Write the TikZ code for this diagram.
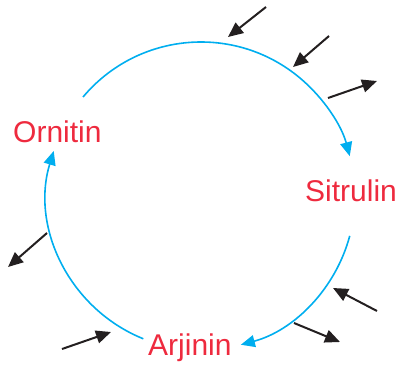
\documentclass[tikz,border=0pt]{standalone}
\usepackage{fontspec}
\setmainfont{Liberation Sans}
\usetikzlibrary{arrows.meta,calc}
\definecolor{cycblue}{HTML}{00AEEF}
\definecolor{labred}{HTML}{EE2A3E}
\definecolor{arrblack}{HTML}{231F20}
\begin{document}
\begin{tikzpicture}[x=1pt,y=1pt,
  cyc/.style={draw=cycblue,line width=1.6pt,-{Triangle[length=14pt,width=12pt]}},
  ext/.style={draw=arrblack,line width=2pt,-{Triangle[length=15pt,width=13pt]}},
  lab/.style={text=labred,font=\fontsize{30}{30}\selectfont,inner sep=0pt,anchor=base west}]
\useasboundingbox (0,0) rectangle (398,365);
\coordinate (C) at (201,169);
% cycle arcs
\draw[cyc] ($(C)+(140:154)$) arc[start angle=140,end angle=15,radius=154];
\draw[cyc] ($(C)+(-15:154)$) arc[start angle=-15,end angle=-75,radius=154];
\draw[cyc] ($(C)+(248:154)$) arc[start angle=248,end angle=163,radius=154];
% labels
\node[lab] (orn) at (13,223) {Ornitin};
\node[lab] (sit) at (305,164) {Sitrulin};
\node[lab] (arj) at (148,10) {Arjinin};
% side arrows
\coordinate (a1s) at (266,358); \coordinate (a1e) at (228,328);
\coordinate (a2s) at (329,329); \coordinate (a2e) at (293,298);
\coordinate (a3s) at (328,267); \coordinate (a3e) at (377,284);
\coordinate (a4s) at (377,54);  \coordinate (a4e) at (333,77);
\coordinate (a5s) at (294,42);  \coordinate (a5e) at (340,23);
\coordinate (a6s) at (47,132);  \coordinate (a6e) at (8,98);
\coordinate (a7s) at (62,16);   \coordinate (a7e) at (111,33);
\foreach \i in {1,...,7}{\draw[ext] (a\i s) -- (a\i e);}
\end{tikzpicture}
\end{document}
